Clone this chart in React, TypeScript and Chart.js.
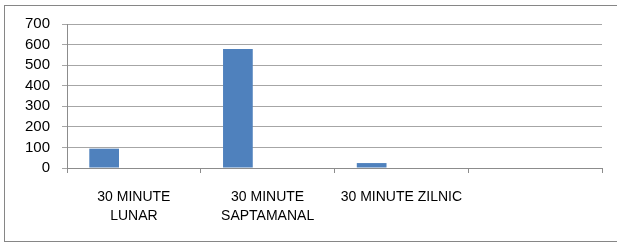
import React, { useEffect, useRef } from "react";
import { Chart, registerables } from "chart.js";

Chart.register(...registerables);

const categories: (string | string[])[] = [
  ["30 MINUTE", "LUNAR"],
  ["30 MINUTE", "SAPTAMANAL"],
  "30 MINUTE ZILNIC",
  "",
];
const series1: (number | null)[] = [94, 579, 24, null];
const series2: (number | null)[] = [null, null, null, null];
const series3: (number | null)[] = [null, null, null, null];
const yMin = 0;
const yMax = 700;
const yStep = 100;

export default function App() {
  const ref = useRef<HTMLCanvasElement | null>(null);

  useEffect(() => {
    if (!ref.current) return;
    const font = { family: "'Liberation Sans', Arial, sans-serif" };
    const chart = new Chart(ref.current, {
      type: "bar",
      data: {
        labels: categories,
        datasets: [
          { label: "S1", data: series1, backgroundColor: "#4F81BD" },
          { label: "S2", data: series2, backgroundColor: "#C0504D" },
          { label: "S3", data: series3, backgroundColor: "#9BBB59" },
        ],
      },
      options: {
        responsive: false,
        animation: false,
        events: [],
        datasets: {
          bar: { categoryPercentage: 3 / 4.5, barPercentage: 1 },
        },
        layout: { padding: { top: 24, right: 15, left: 0, bottom: 0 } },
        plugins: {
          legend: { display: false },
          tooltip: { enabled: false },
          title: { display: false },
        },
        scales: {
          x: {
            afterFit: (s: any) => {
              s.height = 74;
            },
            grid: {
              offset: true,
              drawOnChartArea: false,
              drawTicks: true,
              tickLength: 5,
              color: "#8c8c8c",
            },
            border: { color: "#8c8c8c" },
            ticks: {
              color: "#000",
              padding: 15,
              maxRotation: 0,
              autoSkip: false,
              font: { ...font, size: 14, lineHeight: 1.36 },
            },
          },
          y: {
            min: yMin,
            max: yMax,
            afterFit: (s: any) => {
              s.width = 67;
            },
            grid: { color: "#a6a6a6", tickLength: 5 },
            border: { color: "#8c8c8c" },
            ticks: {
              stepSize: yStep,
              autoSkip: false,
              color: "#000",
              padding: 12,
              font: { ...font, size: 15 },
            },
          },
        },
      },
    });
    return () => chart.destroy();
  }, []);

  return (
    <div style={{ position: "absolute", left: 0, top: 0, width: 617, height: 242, overflow: "hidden", background: "#fff" }}>
      <div
        style={{
          position: "absolute",
          left: 4,
          top: 5,
          width: 650,
          height: 237,
          boxSizing: "border-box",
          border: "1px solid #868686",
        }}
      />
      <canvas
        ref={ref}
        width={617}
        height={242}
        style={{ position: "absolute", left: 0, top: 0, width: 617, height: 242 }}
      />
    </div>
  );
}
